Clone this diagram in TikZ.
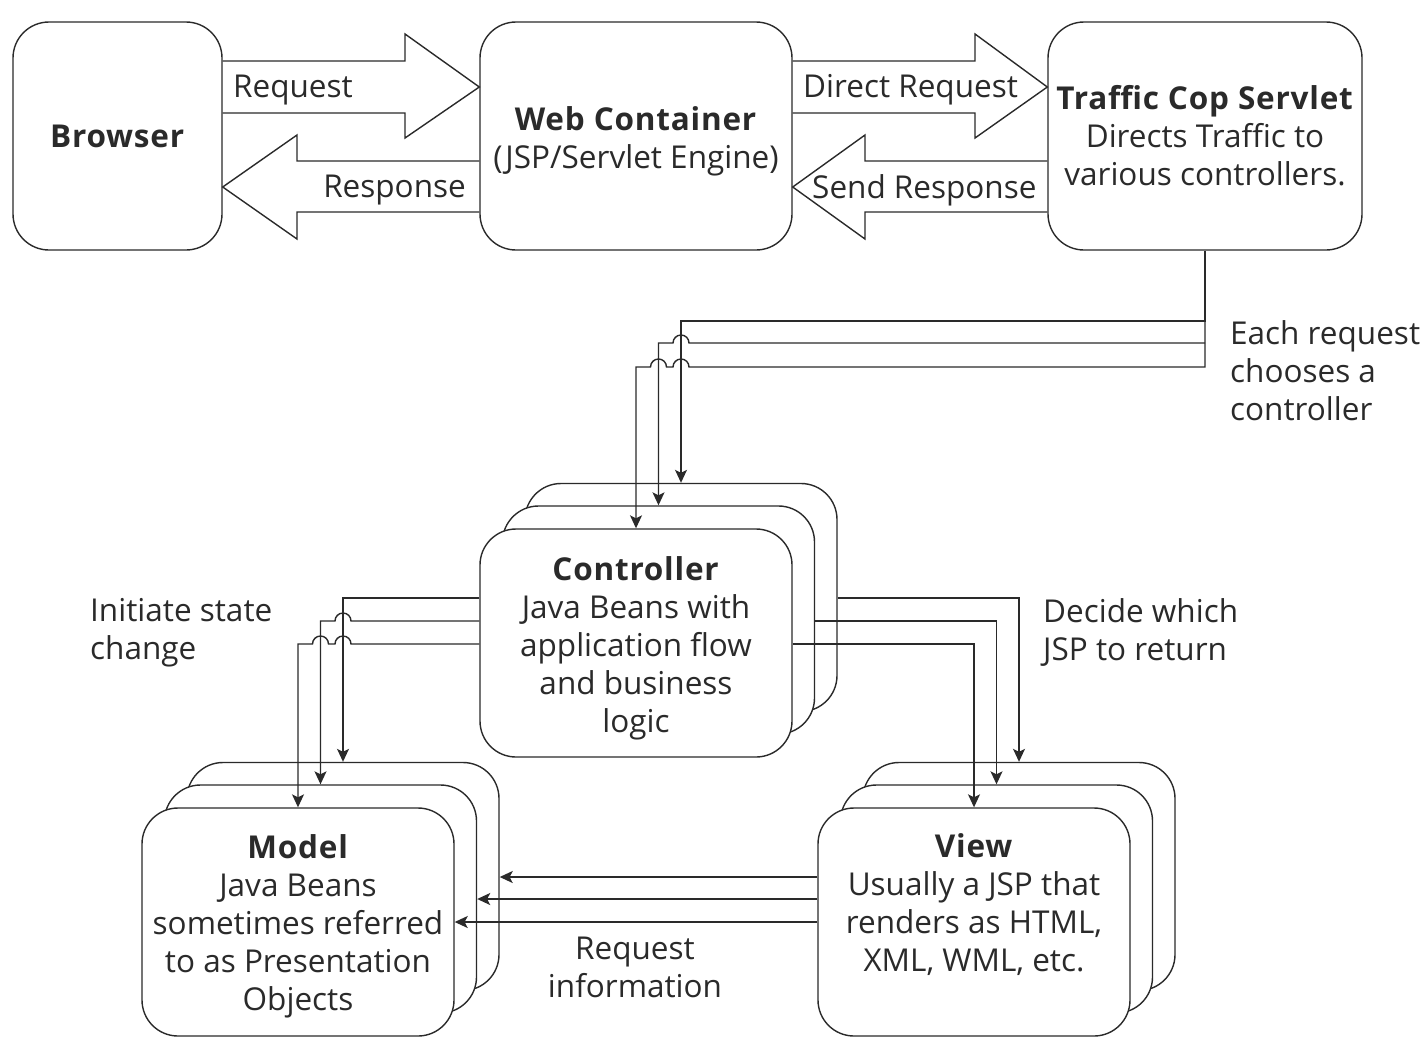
\documentclass[tikz,border=0pt]{standalone}
\usepackage{fontspec}
\setmainfont{Open Sans}[BoldFeatures={LetterSpace=2.5}]
\usetikzlibrary{arrows.meta}
\definecolor{ink}{HTML}{2A2A2A}
\newcommand{\topstrut}[1]{\rule{0pt}{#1pt}}
\begin{document}
\begin{tikzpicture}[x=1pt,y=-1pt]
\tikzset{
  rbox/.style={draw=ink, fill=white, line width=1.4pt, rounded corners=36pt,
    align=center, text=ink, font=\fontsize{31.5}{38}\selectfont, inner sep=0pt,
    minimum width=312pt, minimum height=228pt},
  wire/.style={draw=ink, line width=1.4pt},
  tip/.style={wire, -{Stealth[length=13pt,width=12pt,inset=3pt]}},
  lbl/.style={text=ink, font=\fontsize{31.5}{38}\selectfont, inner sep=0pt, align=left},
}
\useasboundingbox (0,0) rectangle (1426,1045);

% top row
\node[rbox, minimum width=209pt] (browser) at (117.5,136) {\textbf{Browser}};
\node[rbox] (web) at (636,136) {\topstrut{34}\textbf{Web Container}\\(JSP/Servlet Engine)};
\node[rbox, minimum width=314pt] (tc) at (1205,136) {\textbf{Traffic Cop Servlet}\\Directs Traffic to\\various controllers.};

% block arrows
\draw[wire] (browser.east |- 0,61) -- (405,61) -- (405,34) -- (web.west |- 0,87) -- (405,138) -- (405,113) -- (browser.east |- 0,113);
\draw[wire] (web.west |- 0,161) -- (297,161) -- (297,135) -- (browser.east |- 0,187) -- (297,239) -- (297,212) -- (web.west |- 0,212);
\draw[wire] (web.east |- 0,61) -- (975,61) -- (975,34) -- (tc.west |- 0,87) -- (975,138) -- (975,113) -- (web.east |- 0,113);
\draw[wire] (tc.west |- 0,161) -- (865,161) -- (865,135) -- (web.east |- 0,187) -- (865,239) -- (865,212) -- (tc.west |- 0,212);
\node[lbl, anchor=west] (lreq) at (233,90) {Request};
\node[lbl, anchor=east] (lresp) at (466,190) {Response};
\node[lbl, anchor=west] (ldreq) at (803,90) {Direct Request};
\node[lbl, anchor=west] (lsresp) at (812,190) {Send Response};

% controller stack
\node[rbox] (ctrlB) at (681,597.5) {};
\node[rbox] (ctrlM) at (658.5,620) {};
\node[rbox] (ctrl) at (636,643) {\topstrut{34}\textbf{Controller}\\Java Beans with\\application flow\\and business\\logic};

% model stack
\node[rbox] (modelB) at (343,876.5) {};
\node[rbox] (modelM) at (320.5,899) {};
\node[rbox] (model) at (298,922) {\topstrut{32}\textbf{Model}\\Java Beans\\sometimes referred\\to as Presentation\\Objects};

% view stack
\node[rbox] (viewB) at (1019,876.5) {};
\node[rbox] (viewM) at (996.5,899) {};
\node[rbox] (view) at (974,922) {\textbf{View}\\Usually a JSP that\\renders as HTML,\\XML, WML, etc.\\\mbox{}};

% traffic cop -> controllers
\draw[tip] (tc.south) -- (tc.south |- 0,321) -- (ctrlB.north |- 0,321) -- (ctrlB.north);
\draw[tip] (tc.south |- 0,343) -- (689,343) arc[start angle=0,end angle=180,radius=8pt] -- (ctrlM.north |- 0,343) -- (ctrlM.north);
\draw[tip] (tc.south |- 0,321) -- (tc.south |- 0,367) -- (689,367) arc[start angle=0,end angle=180,radius=8pt] -- (666.5,367) arc[start angle=0,end angle=180,radius=8pt] -- (ctrl.north |- 0,367) -- (ctrl.north);
\node[lbl, anchor=west] (lchoose) at (1230,371) {Each request\\chooses a\\controller};

% controller -> model
\draw[tip] (ctrl.west |- 0,598) -- (modelB.north |- 0,598) -- (modelB.north);
\draw[tip] (ctrl.west |- 0,621) -- (351,621) arc[start angle=0,end angle=180,radius=8pt] -- (modelM.north |- 0,621) -- (modelM.north);
\draw[tip] (ctrl.west |- 0,644) -- (351,644) arc[start angle=0,end angle=180,radius=8pt] -- (328.5,644) arc[start angle=0,end angle=180,radius=8pt] -- (model.north |- 0,644) -- (model.north);
\node[lbl, anchor=west] (linit) at (90,633) {Initiate state\\change};

% controller -> view
\draw[tip] (ctrlB.east |- 0,598) -| (viewB.north);
\draw[tip] (ctrlM.east |- 0,621) -| (viewM.north);
\draw[tip] (ctrl.east |- 0,644) -| (view.north);
\node[lbl, anchor=west] (ldecide) at (1043,632) {Decide which\\JSP to return};

% view -> model
\draw[tip] (view.west |- 0,877) -- (modelB.east |- 0,877);
\draw[tip] (view.west |- 0,899) -- (modelM.east |- 0,899);
\draw[tip] (view.west |- 0,922) -- (model.east |- 0,922);
\node[lbl, align=center] (lreqinfo) at (635,967) {Request\\information};
\end{tikzpicture}
\end{document}
